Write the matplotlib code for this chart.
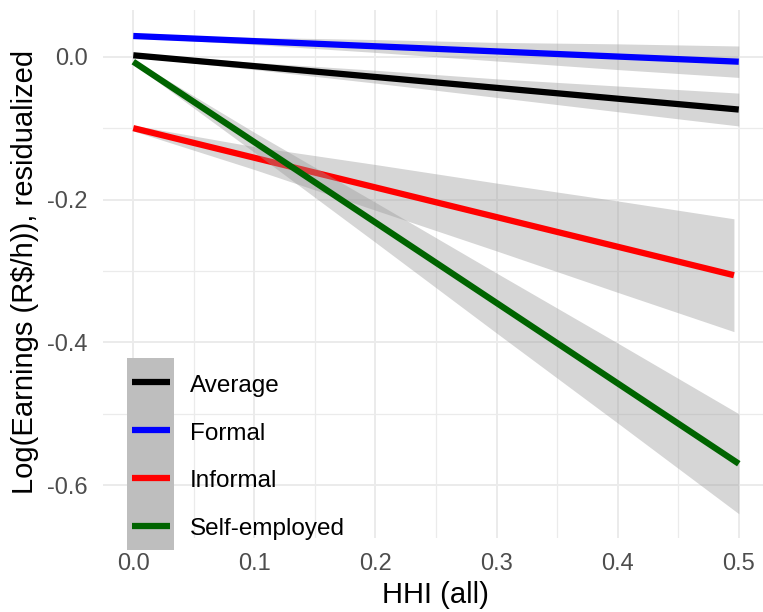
import matplotlib
matplotlib.use("Agg")
import matplotlib.pyplot as plt
from matplotlib.patches import Rectangle
from matplotlib.lines import Line2D
import numpy as np

plt.rcParams['font.family'] = ['Liberation Sans', 'DejaVu Sans']

# ---- data ----
series = ["Average", "Formal", "Informal", "Self-employed"]
colors = ["#000000", "#0000FF", "#FF0000", "#006400"]

# fitted line endpoints
line_x_start = [0.0, 0.0, 0.0, 0.0]
line_x_end = [0.5, 0.5, 0.496, 0.5]
line_y_start = [0.002, 0.029, -0.100, -0.007]
line_y_end = [-0.074, -0.007, -0.306, -0.570]

# confidence bands
band_x_avg = [0.0, 0.1, 0.2, 0.3, 0.4, 0.5]
band_hi_avg = [0.004, -0.008, -0.019, -0.031, -0.041, -0.051]
band_lo_avg = [0.000, -0.018, -0.037, -0.057, -0.077, -0.097]

band_x_formal = [0.0, 0.1, 0.2, 0.3, 0.4, 0.5]
band_hi_formal = [0.031, 0.027, 0.024, 0.020, 0.018, 0.015]
band_lo_formal = [0.027, 0.017, 0.006, -0.006, -0.018, -0.029]

band_x_informal = [0.0, 0.1, 0.2, 0.3, 0.4, 0.496]
band_hi_informal = [-0.096, -0.126, -0.151, -0.177, -0.202, -0.227]
band_lo_informal = [-0.104, -0.158, -0.215, -0.272, -0.330, -0.385]

band_x_self = [0.0, 0.1, 0.2, 0.3, 0.4, 0.5]
band_hi_self = [-0.004, -0.106, -0.204, -0.303, -0.401, -0.500]
band_lo_self = [-0.010, -0.134, -0.260, -0.387, -0.513, -0.640]

band_x = [band_x_avg, band_x_formal, band_x_informal, band_x_self]
band_hi = [band_hi_avg, band_hi_formal, band_hi_informal, band_hi_self]
band_lo = [band_lo_avg, band_lo_formal, band_lo_informal, band_lo_self]

x_ticks = [0.0, 0.1, 0.2, 0.3, 0.4, 0.5]
x_tick_labels = ["0.0", "0.1", "0.2", "0.3", "0.4", "0.5"]
y_ticks = [0.0, -0.2, -0.4, -0.6]
y_tick_labels = ["0.0", "-0.2", "-0.4", "-0.6"]
x_title = "HHI (all)"
y_title = r"Log(Earnings (R\$/h)), residualized"

# ---- figure ----
W, H = 763, 612
fig = plt.figure(figsize=(W / 100, H / 100), dpi=100)
ax_l, ax_r, ax_t, ax_b = 103, 763, 10, 538
ax = fig.add_axes([ax_l / W, 1 - ax_b / H, (ax_r - ax_l) / W, (ax_b - ax_t) / H])

ax.set_xlim(-0.025, 0.52)
ax.set_ylim(-0.674, 0.0654)

for s in ax.spines.values():
    s.set_visible(False)

ax.set_xticks(x_ticks)
ax.set_xticklabels(x_tick_labels)
ax.set_yticks(y_ticks)
ax.set_yticklabels(y_tick_labels)
ax.set_xticks([0.05, 0.15, 0.25, 0.35, 0.45], minor=True)
ax.set_yticks([-0.1, -0.3, -0.5], minor=True)
ax.tick_params(which='both', length=0)
ax.tick_params(axis='x', which='major', pad=11.0, labelsize=17, labelcolor='#4D4D4D')
ax.tick_params(axis='y', which='major', pad=10.8, labelsize=17, labelcolor='#4D4D4D')
ax.grid(which='major', color='#EBEBEB', linewidth=1.4, zorder=0)
ax.grid(which='minor', color='#EBEBEB', linewidth=0.9, zorder=0)
ax.set_axisbelow(True)

for i, name in enumerate(series):
    ax.fill_between(band_x[i], band_lo[i], band_hi[i], color='#999999',
                    alpha=0.4, linewidth=0, zorder=2 + 2 * i)
    ax.plot([line_x_start[i], line_x_end[i]], [line_y_start[i], line_y_end[i]],
            color=colors[i], linewidth=4.5, solid_capstyle='butt', zorder=3 + 2 * i)

# ---- legend (drawn in figure pixel positions) ----
def fx(px):
    return px / W

def fy(py):
    return 1 - py / H

fig.add_artist(Rectangle((fx(126.7), fy(550)), (174.3 - 126.7) / W, (550 - 358) / H,
                         transform=fig.transFigure, facecolor='#BEBEBE',
                         edgecolor='none', zorder=20))
for i, name in enumerate(series):
    ly = 382.3 + 47.8 * i
    fig.add_artist(Line2D([fx(131.5), fx(170)], [fy(ly), fy(ly)], transform=fig.transFigure,
                          color=colors[i], linewidth=4.5, solid_capstyle='butt', zorder=21))
    fig.text(fx(190), fy(ly + 9.5), name, fontsize=17.5, color='black',
             ha='left', va='baseline', zorder=21)

# ---- axis titles ----
fig.text(fx(435), fy(603), x_title, fontsize=21, color='black', ha='center', va='baseline')
fig.text(fx(33), fy(272), y_title, fontsize=21, color='black', rotation=90,
         rotation_mode='anchor', ha='center', va='baseline')

fig.savefig("out.png", dpi=100)
